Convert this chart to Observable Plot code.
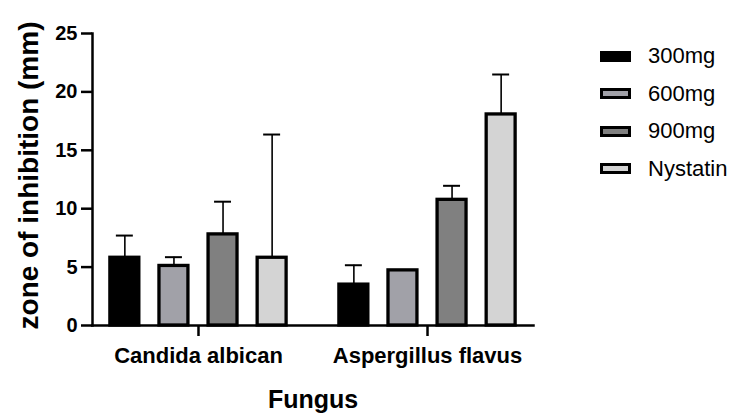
<!DOCTYPE html>
<html><head><meta charset="utf-8">
<script src="https://cdn.jsdelivr.net/npm/d3@7"></script>
<script src="https://cdn.jsdelivr.net/npm/@observablehq/plot@0.6"></script>
<style>
body{margin:0;background:#fff;}
#chart{position:relative;width:736px;height:413px;font-family:"Liberation Sans",Arial,sans-serif;}
.item{position:absolute;left:600px;height:24px;line-height:24px;display:flex;align-items:center;white-space:nowrap;font-size:22px;color:#000;}
.sw{width:25px;height:5px;border:3px solid #000;box-sizing:content-box;margin-right:17px;}
</style></head><body><div id="chart"></div>
<script>
const fungi = ["Candida albican", "Aspergillus flavus"];
const doses = ["300mg", "600mg", "900mg", "Nystatin"];
const doseColors = ["#000000", "#a1a1a8", "#808080", "#d4d4d4"];
const candidaMeans = [5.8, 5.1, 7.8, 5.8];
const candidaSD = [1.9, 0.75, 2.8, 10.55];
const aspergillusMeans = [3.5, 4.72, 10.76, 18.07];
const aspergillusSD = [1.66, 0, 1.2, 3.42];
const yTicks = [0, 5, 10, 15, 20, 25];
const xTitle = "Fungus";
const yTitle = "zone of inhibition (mm)";

const meansBy = [candidaMeans, aspergillusMeans];
const sdBy = [candidaSD, aspergillusSD];
const rows = [];
fungi.forEach((f, fi) => doses.forEach((d, di) => rows.push({fungus: f, dose: d, mean: meansBy[fi][di], sd: sdBy[fi][di]})));

const plot = Plot.plot({
  width: 736, height: 413,
  marginLeft: 92, marginRight: 203, marginTop: 33, marginBottom: 88,
  style: {fontFamily: "'Liberation Sans', Arial, sans-serif", color: "#000", background: "#fff", overflow: "visible"},
  fx: {domain: fungi, paddingInner: 0.0744, paddingOuter: 0, round: false, label: null},
  x: {domain: doses, paddingInner: 0.41, paddingOuter: 0.364, round: false, axis: null},
  y: {domain: [0, 25], label: null},
  color: {domain: doses, range: doseColors},
  marks: [
    Plot.ruleX(rows, {fx: "fungus", x: "dose", y1: "mean", y2: d => d.mean + d.sd, stroke: "#000", strokeWidth: 1.6}),
    Plot.tickY(rows, {fx: "fungus", x: "dose", y: d => d.mean + d.sd, stroke: "#000", strokeWidth: 2, insetLeft: 6, insetRight: 6}),
    Plot.barY(rows, {fx: "fungus", x: "dose", y: "mean", fill: "dose", stroke: "#000", strokeWidth: 3.3}),
    Plot.frame({anchor: "bottom", facet: "super", stroke: "#000", strokeWidth: 2.5}),
    Plot.frame({anchor: "left", facet: "super", stroke: "#000", strokeWidth: 2.5}),
    Plot.axisY({ticks: yTicks, tickSize: 11, tickPadding: 4, fontSize: 20, fontWeight: "bold", strokeWidth: 2.5, label: null}),
    Plot.axisFx({anchor: "bottom", tickSize: 11, tickPadding: 11, fontSize: 22, fontWeight: "bold", strokeWidth: 2.5, label: null}),
    Plot.text([xTitle], {text: d => d, frameAnchor: "bottom", lineAnchor: "top", dy: 65, fontSize: 25, fontWeight: "bold", facet: "super"}),
    Plot.text([yTitle], {text: d => d, frameAnchor: "left", textAnchor: "middle", rotate: -90, dx: -63, dy: -4, fontSize: 28, fontWeight: "bold", facet: "super"})
  ]
});
const chart = document.getElementById("chart");
chart.appendChild(plot);

const legendCenters = [56, 93.5, 131, 168.5];
doses.forEach((d, i) => {
  const item = document.createElement("div");
  item.className = "item";
  item.style.top = (legendCenters[i] - 12) + "px";
  const sw = document.createElement("span");
  sw.className = "sw";
  sw.style.background = doseColors[i];
  item.appendChild(sw);
  item.appendChild(document.createTextNode(d));
  chart.appendChild(item);
});
</script></body></html>
